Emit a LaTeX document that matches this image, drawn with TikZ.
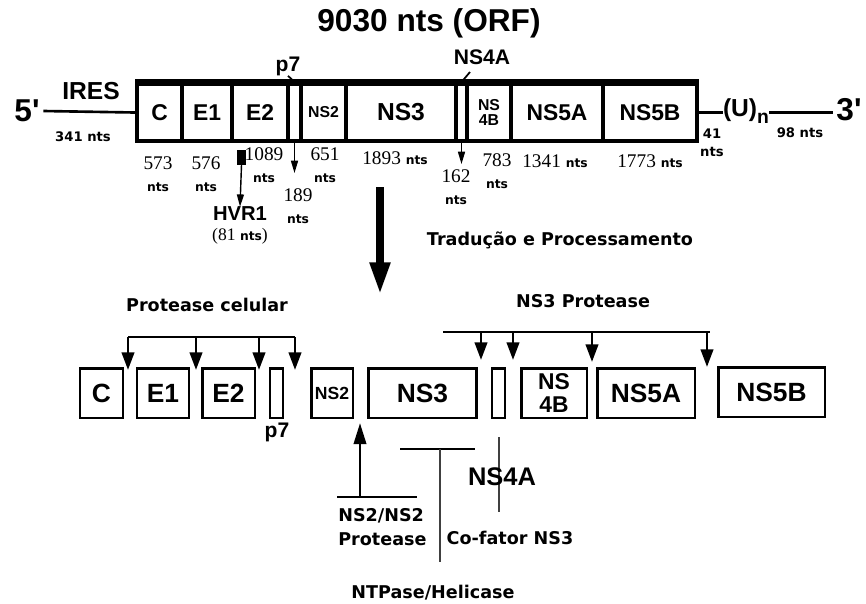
\documentclass[tikz,border=0pt]{standalone}
\usepackage{fontspec}
\setmainfont{Liberation Serif}
\setsansfont{Liberation Sans}
\newfontfamily\dejavu{DejaVu Sans}
\newfontfamily\primesans{Liberation Sans}[Ligatures=ResetAll]
\usetikzlibrary{arrows.meta,positioning}
\newcommand{\nts}{{\dejavu\bfseries\fontsize{7}{8}\selectfont nts}}

\begin{document}
\begin{tikzpicture}[x=0.02cm,y=-0.02cm,
   seg/.style={draw,line width=2.2pt,minimum height=1.14cm,inner sep=0pt,
     font=\sffamily\bfseries\fontsize{13}{13}\selectfont},
   sm/.style={align=center,font=\sffamily\bfseries\fontsize{9}{9}\selectfont},
   prot/.style={draw,line width=1.7pt,minimum height=1cm,inner sep=0pt,
     font=\sffamily\bfseries\fontsize{15}{15}\selectfont},
   num/.style={align=center,inner sep=0pt,font=\fontsize{11}{12.5}\selectfont},
   lab/.style={inner sep=0pt,font=\dejavu\bfseries\fontsize{10}{13.5}\selectfont},
   tiny/.style={inner sep=0pt,align=center,font=\dejavu\bfseries\fontsize{7.5}{10}\selectfont},
   big/.style={inner sep=0pt,font=\sffamily\bfseries\fontsize{12}{12}\selectfont},
   endlab/.style={inner sep=2pt,font=\primesans\bfseries\fontsize{18}{18}\selectfont},
   thinarr/.style={line width=0.8pt,-{Triangle[length=7pt,width=4pt]}},
   cut/.style={line width=1.6pt,-{Triangle[length=10pt,width=7pt]}}]
  \useasboundingbox (0,0) rectangle (866,603);

  % genome
  \node[big,font=\sffamily\bfseries\fontsize{18}{18}\selectfont] (orf) at (429,23) {9030 nts (ORF)};
  \node[seg,minimum width=0.9cm]  (c)    at (159.5,112.5) {C};
  \node[seg,minimum width=1.0cm]  (e1)   at (207,112.5)   {E1};
  \node[seg,minimum width=1.12cm] (e2)   at (260,112.5)   {E2};
  \node[seg,minimum width=0.26cm] (p7)   at (294.5,112.5) {};
  \node[seg,sm,minimum width=0.9cm] (ns2) at (323.5,112.5) {NS2};
  \node[seg,minimum width=2.2cm,font=\sffamily\bfseries\fontsize{14}{14}\selectfont] (ns3) at (401,112.5) {NS3};
  \node[seg,minimum width=0.22cm] (ns4a) at (461.5,112.5) {};
  \node[seg,sm,minimum width=0.88cm] (ns4b) at (489,112.5) {NS\\4B};
  \node[seg,minimum width=1.84cm] (ns5a) at (557,112.5)   {NS5A};
  \node[seg,minimum width=1.88cm] (ns5b) at (650,112.5)   {NS5B};
  \draw[line width=3pt] (c.north west) -- (ns5b.north east);

  \node[endlab] (five) at (27,111) {5'};
  \node[big,font=\sffamily\bfseries\fontsize{14}{14}\selectfont] (ires) at (91,91) {IRES};
  \node[tiny] (n341) at (83,137) {341 nts};
  \draw[line width=1.5pt] (five.east) -- (c.west);

  \node[big,font=\sffamily\bfseries\fontsize{14}{14}\selectfont] (un) at (746,111)
    {(U)\raisebox{-0.5ex}{\fontsize{11}{11}\selectfont n}};
  \node[endlab] (three) at (849,110) {3'};
  \draw[line width=1.5pt] (ns5b.east) -- (ns5b.east -| un.west);
  \draw[line width=1.5pt] (ns5b.east -| un.east) -- (ns5b.east -| three.west);
  \node[tiny] (n41) at (712,143) {41\\nts};
  \node[tiny] (n98) at (800,133) {98 nts};

  \node[big] (p7lab) at (288,66) {p7};
  \draw[line width=1pt] (p7lab.south) -- (p7.north);
  \node[big] (ns4alab) at (482,57) {NS4A};
  \coordinate (t4a) at (470,72);
  \draw[line width=1pt] (t4a) -- (ns4a.north);

  % lengths
  \node[num] (l573) at (158,174) {573\\ \nts};
  \node[num] (l576) at (206,174) {576\\ \nts};
  \node[fill,minimum width=0.18cm,minimum height=0.3cm,inner sep=0pt] (hvr) at (241.5,157) {};
  \node[num] (l1089) at (264,165) {1089\\ \nts};
  \node[big,font=\sffamily\bfseries\fontsize{11.5}{11.5}\selectfont] (hvr1) at (240,214) {HVR1};
  \node[num,font=\fontsize{10}{11}\selectfont] (l81) at (240,236) {(81 \nts)};
  \draw[thinarr] (hvr.south) -- (hvr1.north);
  \node[num] (l189) at (298,206) {189\\ \nts};
  \coordinate (p7tip) at (294.5,173);
  \draw[thinarr] (p7.south) -- (p7tip);
  \node[num] (l651) at (325,165) {651\\ \nts};
  \node[num] (l1893) at (395,158) {1893 \nts};
  \node[num] (l162) at (456,187) {162\\ \nts};
  \coordinate (ns4atip) at (461.5,164);
  \draw[thinarr] (ns4a.south) -- (ns4atip);
  \node[num] (l783) at (497,171) {783\\ \nts};
  \node[num] (l1341) at (555,161) {1341 \nts};
  \node[num] (l1773) at (650,161) {1773 \nts};

  % translation
  \coordinate (trtop) at (380,187);
  \coordinate (trtip) at (380,294);
  \draw[line width=4pt,-{Triangle[length=18pt,width=11pt]}] (trtop) -- (trtip);
  \node[lab] (trad) at (560,240) {Tradução e Processamento};

  % polyprotein
  \node[prot,minimum width=0.86cm] (bc)    at (101.5,393) {C};
  \node[prot,minimum width=1.04cm] (be1)   at (163,393)   {E1};
  \node[prot,minimum width=1.06cm] (be2)   at (228.5,393) {E2};
  \node[prot,minimum width=0.26cm] (bp7)   at (276.5,393) {};
  \node[prot,minimum width=0.84cm,font=\sffamily\bfseries\fontsize{10}{10}\selectfont] (bns2) at (332,393) {NS2};
  \node[prot,minimum width=2.18cm] (bns3)  at (422.5,393) {NS3};
  \node[prot,minimum width=0.26cm] (bns4a) at (498.5,393) {};
  \node[prot,minimum width=1.32cm,align=center,font=\sffamily\bfseries\fontsize{13}{13}\selectfont] (bns4b) at (554,393) {NS\\4B};
  \node[prot,minimum width=1.96cm] (bns5a) at (646,393)   {NS5A};
  \node[prot,minimum width=2.14cm] (bns5b) at (771.5,392) {NS5B};
  \node[big] (bp7lab) at (277,432) {p7};

  % cleavage
  \node[lab] (pcel) at (207,305) {Protease celular};
  \foreach \x/\n in {128/1,196/2,259/3,295/4} {
    \coordinate (pc\n) at (\x,337);
    \coordinate (pt\n) at (\x,370);
  }
  \draw[line width=1.6pt] (pc1) -- (pc4);
  \foreach \n in {1,...,4}
    \draw[cut] (pc\n) -- (pt\n);

  \node[lab] (ns3prot) at (583,301) {NS3 Protease};
  \foreach \x/\y/\n in {481/360/1,513/360/2,592/362/3,707/367/4} {
    \coordinate (qc\n) at (\x,332);
    \coordinate (qt\n) at (\x,\y);
  }
  \coordinate (q0) at (443,332);
  \coordinate (q5) at (710,332);
  \draw[line width=1.6pt] (q0) -- (q5);
  \foreach \n in {1,...,4}
    \draw[cut] (qc\n) -- (qt\n);

  % functions
  \coordinate (nb1) at (337,497);
  \coordinate (nb2) at (417,497);
  \coordinate (ns2base) at (360,497);
  \coordinate (ns2tip) at (360,423);
  \draw[line width=1.6pt] (nb1) -- (nb2);
  \draw[line width=1.6pt,-{Triangle[length=12pt,width=7pt]}] (ns2base) -- (ns2tip);
  \node[lab,align=left,anchor=north west] (ns2prot) at (338,508) {NS2/NS2\\Protease};

  \coordinate (h1) at (400,449);
  \coordinate (h2) at (475,449);
  \coordinate (hc) at (440,449);
  \coordinate (hb) at (440,562);
  \draw[line width=1.6pt] (h1) -- (h2);
  \draw[line width=0.9pt,black!75] (hc) -- (hb);
  \node[lab] (cof) at (510,538) {Co-fator NS3};
  \node[lab] (ntp) at (433,593) {NTPase/Helicase};

  \coordinate (a1) at (499,437);
  \coordinate (a2) at (499,512);
  \draw[line width=0.9pt,black!75] (a1) -- (a2);
  \node[big,font=\sffamily\bfseries\fontsize{14.5}{14.5}\selectfont] (ns4alab2) at (502,477) {NS4A};
\end{tikzpicture}
\end{document}
